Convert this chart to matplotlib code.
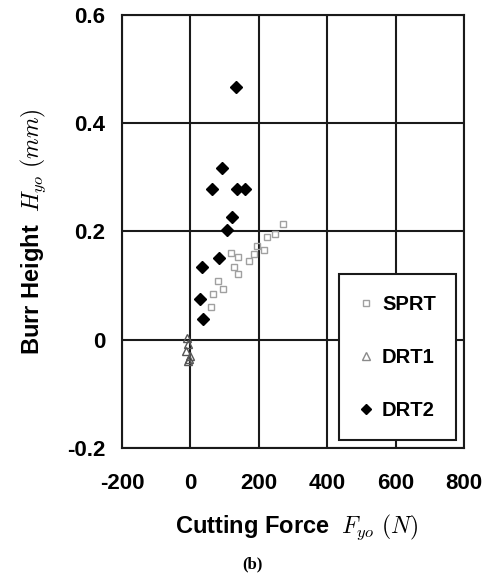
import matplotlib
matplotlib.use('Agg')
import matplotlib.pyplot as plt
from matplotlib.lines import Line2D

plt.rcParams['font.family'] = ['Liberation Sans', 'DejaVu Sans']
plt.rcParams['font.weight'] = 'bold'
plt.rcParams['mathtext.fontset'] = 'cm'
plt.rcParams['axes.unicode_minus'] = False

# cutting force F_yo (N) vs burr height H_yo (mm)
sprt_force = [61, 66, 80, 94, 118, 128, 138, 138, 171, 186, 195, 215, 224, 246, 272]
sprt_burr = [0.060, 0.084, 0.109, 0.094, 0.161, 0.134, 0.152, 0.121, 0.146, 0.158,
             0.174, 0.165, 0.189, 0.195, 0.214]

drt1_force = [-10, -6, -12, -4, -8, -2]
drt1_burr = [0.004, -0.008, -0.02, -0.035, -0.04, -0.03]

drt2_force = [133, 93, 62, 135, 159, 122, 107, 83, 35, 29, 36]
drt2_burr = [0.467, 0.318, 0.278, 0.278, 0.278, 0.227, 0.203, 0.151, 0.135, 0.076, 0.038]

x_ticks = [-200, 0, 200, 400, 600, 800]
y_ticks = [-0.2, 0, 0.2, 0.4, 0.6]
y_tick_labels = ['-0.2', '0', '0.2', '0.4', '0.6']

fig = plt.figure(figsize=(4.91, 5.77), dpi=100)
ax = fig.add_axes([0.2485, 0.2236, 0.6965, 0.7504])

gray = '#8a8a8a'
ax.plot(sprt_force, sprt_burr, 's', ms=5, mfc='none', mec='#a0a0a0', mew=1.0, zorder=3)
ax.plot(drt1_force, drt1_burr, '^', ms=6, mfc='none', mec='#555555', mew=1.0, zorder=3)
ax.plot(drt2_force, drt2_burr, 'D', ms=6.5, color='black', zorder=4)

ax.set_xlim(-200, 800)
ax.set_ylim(-0.2, 0.6)
ax.set_xticks(x_ticks)
ax.set_yticks(y_ticks)
ax.set_yticklabels(y_tick_labels)
ax.grid(True, color='#1a1a1a', linewidth=1.5)
ax.set_axisbelow(True)
for s in ax.spines.values():
    s.set_linewidth(1.5)
    s.set_color('#1a1a1a')
ax.tick_params(axis='both', length=0, labelsize=16)
ax.tick_params(axis='x', pad=18)
ax.tick_params(axis='y', pad=12)

ax.set_xlabel(r'Cutting Force  $F_{yo}\ (N)$', fontsize=17, fontweight='bold')
ax.set_ylabel(r'Burr Height  $H_{yo}\ (mm)$', fontsize=17, fontweight='bold')
ax.xaxis.set_label_coords(0.512, -0.150)
ax.yaxis.set_label_coords(-0.215, 0.5)

handles = [
    Line2D([], [], ls='none', marker='s', ms=5, mfc='none', mec='#a0a0a0', mew=1.0),
    Line2D([], [], ls='none', marker='^', ms=6, mfc='none', mec=gray, mew=1.0),
    Line2D([], [], ls='none', marker='D', ms=5, color='black'),
]
leg = ax.legend(handles, ['SPRT', 'DRT1', 'DRT2'], loc='lower right',
                bbox_to_anchor=(0.977, 0.018), borderaxespad=0,
                fontsize=14.5, fancybox=False, framealpha=1, edgecolor='#1a1a1a',
                handlelength=0.7, handletextpad=0.45, labelspacing=1.7,
                borderpad=1.0)
leg.get_frame().set_linewidth(1.5)

fig.text(0.515, 0.021, '(b)', family=['Liberation Serif', 'DejaVu Serif'],
         fontsize=12, fontweight='bold', ha='center', va='center')

fig.savefig('out.png', dpi=100)
